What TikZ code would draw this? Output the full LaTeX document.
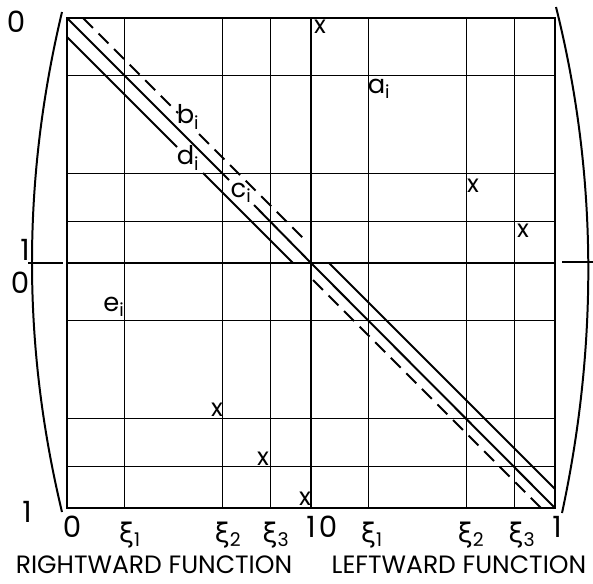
\documentclass[tikz,border=0pt]{standalone}
\usepackage{fontspec}
\setmainfont{Poppins}
\newfontfamily\greekfont{DejaVu Sans}
\newcommand{\xisub}[1]{{\greekfont ξ}\textsubscript{#1}}
\begin{document}
\begin{tikzpicture}[x=0.03cm,y=-0.03cm,
  gridline/.style={line width=0.85pt},
  boldline/.style={line width=1.7pt},
  dashline/.style={line width=1.7pt,dash pattern=on 0.42cm off 0.24cm},
  letter/.style={font=\fontsize{22}{24}\selectfont,inner sep=0pt},
  digit/.style={font=\fontsize{25}{28}\selectfont,inner sep=0pt},
  xi/.style={font=\fontsize{23}{26}\selectfont,inner sep=0pt},
  cross/.style={font=\fontsize{21}{23}\selectfont,inner sep=0pt},
  caption/.style={font=\fontsize{21.4}{24}\selectfont,inner sep=0pt}]
\useasboundingbox (0,0) rectangle (593,583);
% grid of both halves
\foreach \u in {57,155,203} {
  \draw[gridline] (67+\u,18) -- (67+\u,508);
  \draw[gridline] (311+\u,18) -- (311+\u,508);
  \draw[gridline] (67,18+\u) -- (555,18+\u);
  \draw[gridline] (67,263+\u) -- (555,263+\u);
}
\draw[boldline] (67,18) rectangle (555,508);
\draw[boldline] (311,18) -- (311,508);
\draw[boldline] (67,263) -- (555,263);
% diagonals, upper left block
\draw[boldline] (67,18) -- (229,180);
\draw[boldline] (254,205) -- (311,263);
\draw[boldline] (67,37) -- (177,147);
\draw[boldline] (203,173) -- (293,263);
\draw[dashline] (83,18) -- (178,113);
\draw[dashline] (199,134) -- (307,242);
% diagonals, lower right block
\draw[boldline] (311,263) -- (555,508);
\draw[boldline] (329,263) -- (555,489);
\draw[dashline] (313,280) -- (541,508);
% brackets
\draw[boldline] (62,12) .. controls (22,180) and (22,345) .. (62,512);
\draw[boldline] (556,7) .. controls (598,175) and (598,345) .. (562,513);
\draw[boldline] (28,263) -- (63,263);
\draw[boldline] (562,262) -- (593,262);
% labels in the grid
\node[letter] (ai) at (379,89) {a\textsubscript{i}};
\node[letter] (bi) at (188,117) {b\textsubscript{i}};
\node[letter] (ci) at (241,193) {c\textsubscript{i}};
\node[letter] (di) at (188,158) {d\textsubscript{i}};
\node[letter] (ei) at (114,307) {e\textsubscript{i}};
\node[cross] (x1) at (320,27) {x};
\node[cross] (x2) at (473,186) {x};
\node[cross] (x3) at (523,231) {x};
\node[cross] (x4) at (217,410) {x};
\node[cross] (x5) at (263,459) {x};
\node[cross] (x6) at (305,499) {x};
% scale on the left
\node[digit] (l0a) at (16,22) {0};
\node[digit] (l1a) at (25,250) {1};
\node[digit] (l0b) at (20,283) {0};
\node[digit] (l1b) at (27,512) {1};
% scale on the bottom
\node[digit] (b0a) at (72,527) {0};
\node[xi] (b1a) at (130,535) {\xisub{1}};
\node[xi] (b2a) at (228,535) {\xisub{2}};
\node[xi] (b3a) at (276,535) {\xisub{3}};
\node[digit] (b1b) at (311,527) {1};
\node[digit] (b0b) at (328,527) {0};
\node[xi] (b1c) at (372,535) {\xisub{1}};
\node[xi] (b2c) at (471,535) {\xisub{2}};
\node[xi] (b3c) at (522,535) {\xisub{3}};
\node[digit] (b1d) at (557,527) {1};
\node[caption] (right) at (154,565) {RIGHTWARD FUNCTION};
\node[caption] (left) at (459,565) {LEFTWARD FUNCTION};
\end{tikzpicture}
\end{document}
